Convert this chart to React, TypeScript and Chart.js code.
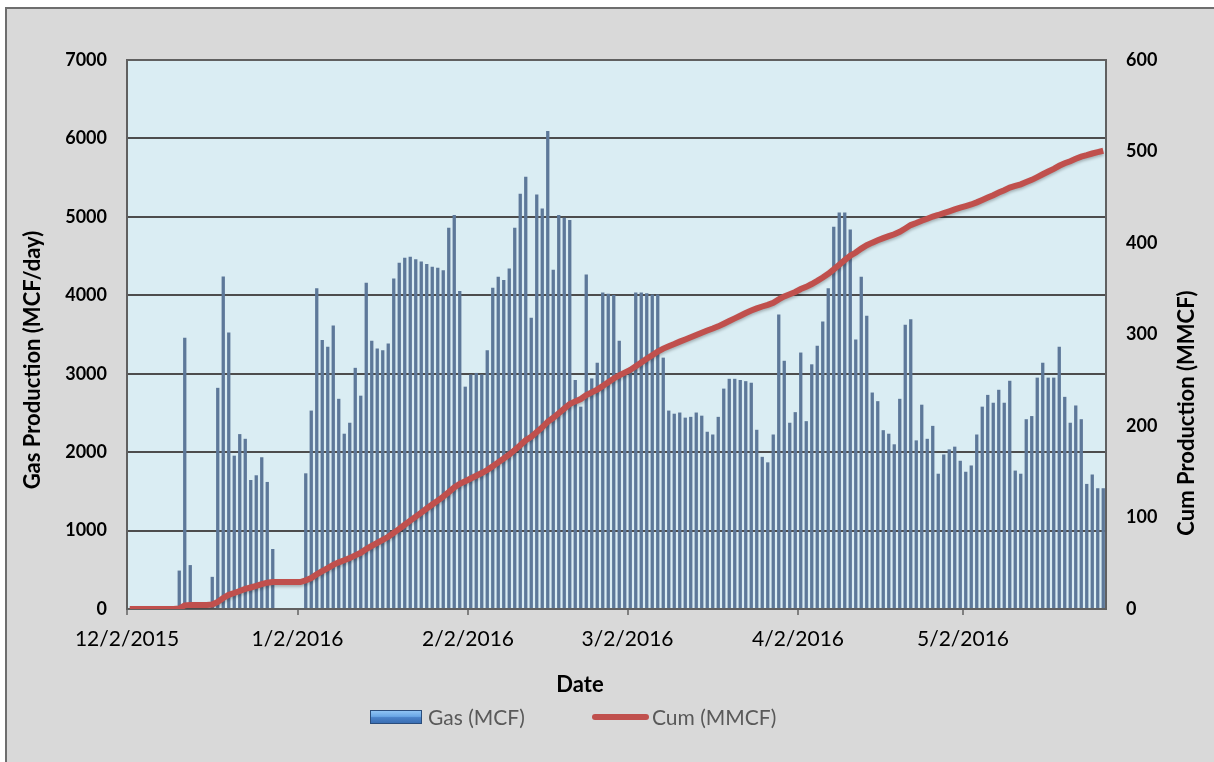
import React, { useEffect, useRef } from 'react';
import { Chart, registerables } from 'chart.js';

Chart.register(...registerables);

// Daily gas production (MCF/day), day 0 = 12/2/2015
const gasMcf = [
  0, 0, 0, 0, 0, 0, 0, 0, 0, 490,
  3460, 560, 0, 0, 0, 410, 2820, 4240, 3525, 1955,
  2230, 2170, 1645, 1705, 1935, 1620, 765, 0, 0, 0,
  0, 0, 1730, 2530, 4090, 3430, 3345, 3615, 2680, 2235,
  2375, 3075, 2720, 4160, 3420, 3320, 3300, 3385, 4215, 4415,
  4480, 4490, 4460, 4430, 4400, 4365, 4350, 4320, 4860, 5025,
  4055, 2835, 2990, 3010, 2990, 3300, 4095, 4235, 4195, 4340,
  4860, 5295, 5510, 3715, 5285, 5105, 6095, 4325, 5025, 4990,
  4960, 2920, 2580, 4265, 2940, 3140, 4035, 4020, 4005, 3420,
  3000, 3020, 4035, 4035, 4025, 4010, 4010, 3205, 2530, 2490,
  2505, 2440, 2450, 2505, 2465, 2260, 2225, 2450, 2810, 2935,
  2935, 2920, 2905, 2885, 2285, 1940, 1870, 2225, 3755, 3165,
  2375, 2510, 3270, 2395, 3120, 3355, 3665, 4090, 4875, 5055,
  5055, 4840, 3435, 4235, 3740, 2760, 2650, 2280, 2235, 2100,
  2680, 3625, 3695, 2150, 2605, 2170, 2335, 1725, 1970, 2035,
  2070, 1890, 1750, 1830, 2225, 2580, 2730, 2630, 2795, 2630,
  2910, 1765, 1725, 2420, 2460, 2950, 3140, 2950, 2950, 3345,
  2705, 2375, 2595, 2420, 1595, 1715, 1540, 1540,
];

// Cumulative production (MMCF)
const cumMmcf = [
  0, 0, 0, 0, 0, 0, 0, 0, 0, 0.5,
  4.0, 4.5, 4.5, 4.5, 4.5, 4.9, 7.7, 12.0, 15.5, 17.5,
  19.7, 21.9, 23.5, 25.2, 27.1, 28.8, 29.5, 29.5, 29.5, 29.5,
  29.5, 29.5, 31.3, 33.8, 37.9, 41.3, 44.7, 48.3, 51.0, 53.2,
  55.6, 58.6, 61.4, 65.5, 68.9, 72.3, 75.6, 78.9, 83.2, 87.6,
  92.1, 96.5, 101.0, 105.4, 109.8, 114.2, 118.5, 122.9, 127.7, 132.8,
  136.8, 139.6, 142.6, 145.6, 148.6, 151.9, 156.0, 160.3, 164.5, 168.8,
  173.7, 179.0, 184.5, 188.2, 193.5, 198.6, 204.7, 209.0, 214.0, 219.0,
  224.0, 226.9, 229.5, 233.7, 236.7, 239.8, 243.8, 247.9, 251.9, 255.3,
  258.3, 261.3, 265.3, 269.4, 273.4, 277.4, 281.4, 284.6, 287.2, 289.6,
  292.2, 294.6, 297.0, 299.5, 302.0, 304.3, 306.5, 308.9, 311.8, 314.7,
  317.6, 320.5, 323.5, 326.3, 328.6, 330.6, 332.4, 334.7, 338.4, 341.6,
  344.0, 346.5, 349.7, 352.1, 355.2, 358.6, 362.3, 366.4, 371.2, 376.3,
  381.3, 386.2, 389.6, 393.9, 397.6, 400.4, 403.0, 405.3, 407.5, 409.6,
  412.3, 415.9, 419.6, 421.8, 424.4, 426.5, 428.9, 430.6, 432.6, 434.6,
  436.7, 438.6, 440.3, 442.1, 444.4, 447.0, 449.7, 452.3, 455.1, 457.7,
  460.6, 462.4, 464.1, 466.6, 469.0, 472.0, 475.1, 478.1, 481.0, 484.4,
  487.1, 489.4, 492.0, 494.4, 496.0, 497.8, 499.3, 500.8,
];

const tickDays = [0, 31, 62, 91, 122, 152];
const tickLabels = ['12/2/2015', '1/2/2016', '2/2/2016', '3/2/2016', '4/2/2016', '5/2/2016'];
const xMaxDay = 178;
const gasMax = 7000;
const gasStep = 1000;
const cumMax = 600;
const cumStep = 100;

const xTitle = 'Date';
const leftTitle = 'Gas Production (MCF/day)';
const rightTitle = 'Cum Production (MMCF)';
const gasLabel = 'Gas (MCF)';
const cumLabel = 'Cum (MMCF)';

const FONT = 'Lato';

export default function App() {
  const ref = useRef<HTMLCanvasElement>(null);

  useEffect(() => {
    const canvas = ref.current;
    if (!canvas) return;

    const drawText = (ctx: any, text: string, x: number, y: number, rot: number) => {
      ctx.save();
      ctx.translate(x, y);
      ctx.rotate(rot);
      ctx.font = `bold 22px ${FONT}`;
      ctx.fillStyle = '#000';
      ctx.textAlign = 'center';
      ctx.textBaseline = 'middle';
      ctx.fillText(text, 0, 0);
      ctx.restore();
    };

    const plotArea = {
      id: 'plotArea',
      beforeDraw(chart: any) {
        const { ctx, chartArea: a } = chart;
        ctx.save();
        ctx.fillStyle = '#daedf3';
        ctx.fillRect(a.left, a.top, a.right - a.left, a.bottom - a.top);
        ctx.restore();
      },
      beforeDatasetsDraw(chart: any) {
        const { ctx, chartArea: a } = chart;
        ctx.save();
        ctx.strokeStyle = '#606060';
        ctx.lineWidth = 2;
        ctx.strokeRect(a.left, a.top, a.right - a.left, a.bottom - a.top);
        ctx.restore();
      },
      beforeDatasetDraw(chart: any, args: any) {
        if (args.index === 1) {
          const ctx = chart.ctx;
          ctx.save();
          ctx.shadowColor = 'rgba(0,0,0,0.25)';
          ctx.shadowBlur = 3;
          ctx.shadowOffsetY = 2;
        }
      },
      afterDatasetDraw(chart: any, args: any) {
        if (args.index === 1) chart.ctx.restore();
      },
      afterDraw(chart: any) {
        const ctx = chart.ctx;
        drawText(ctx, leftTitle, 33, 360, -Math.PI / 2);
        drawText(ctx, rightTitle, 1187, 413, -Math.PI / 2);
        drawText(ctx, xTitle, 580, 685, 0);
      },
    };

    const plain = (v: any) => String(v);

    const chart = new Chart(canvas, {
      type: 'bar',
      data: {
        datasets: [
          {
            type: 'bar',
            label: gasLabel,
            data: gasMcf.map((v, i) => ({ x: i + 0.5, y: v })),
            backgroundColor: '#5d7899',
            borderWidth: 0,
            barPercentage: 0.6,
            categoryPercentage: 1,
            yAxisID: 'y',
            order: 2,
          } as any,
          {
            type: 'line',
            label: cumLabel,
            data: cumMmcf.map((v, i) => ({ x: i + 0.5, y: v })),
            borderColor: '#c0504d',
            borderWidth: 6,
            pointRadius: 0,
            tension: 0,
            fill: false,
            yAxisID: 'y1',
            order: 1,
          } as any,
        ],
      },
      options: {
        animation: false,
        responsive: false,
        devicePixelRatio: 1,
        layout: { padding: { top: 60, left: 8, right: 8, bottom: 53 } },
        plugins: { legend: { display: false }, tooltip: { enabled: false } },
        font: { family: FONT },
        scales: {
          x: {
            type: 'linear',
            min: 0,
            max: xMaxDay,
            offset: false,
            afterBuildTicks: (s: any) => {
              s.ticks = tickDays.map((v) => ({ value: v }));
            },
            afterFit: (s: any) => {
              s.height = 100;
            },
            ticks: {
              callback: (v: any) => {
                const k = tickDays.indexOf(Number(v));
                return k >= 0 ? tickLabels[k] : '';
              },
              font: { family: FONT, size: 21 },
              color: '#000',
              padding: 12,
              maxRotation: 0,
              autoSkip: false,
            },
            grid: { display: true, drawOnChartArea: false, drawTicks: true, tickLength: 6, color: '#808080', lineWidth: 2, offset: false },
            border: { display: false },
          } as any,
          y: {
            position: 'left',
            min: 0,
            max: gasMax,
            ticks: { stepSize: gasStep, callback: plain, font: { family: FONT, size: 18, weight: 'bold' }, color: '#000', padding: 20 },
            grid: { color: '#4d4d4d', lineWidth: 2, drawTicks: false },
            border: { display: false },
            afterFit: (s: any) => {
              s.width = 119;
            },
          } as any,
          y1: {
            position: 'right',
            min: 0,
            max: cumMax,
            ticks: { stepSize: cumStep, callback: plain, font: { family: FONT, size: 18, weight: 'bold' }, color: '#000', padding: 20 },
            grid: { display: false, drawTicks: false },
            border: { display: false },
            afterFit: (s: any) => {
              s.width = 100;
            },
          } as any,
        },
      },
      plugins: [plotArea],
    });

    return () => chart.destroy();
  }, []);

  const legendText: React.CSSProperties = {
    position: 'fixed',
    top: 704,
    font: `21px ${FONT}`,
    lineHeight: '26px',
    color: '#595959',
    whiteSpace: 'nowrap',
  };

  return (
    <div style={{ position: 'fixed', left: 0, top: 0, width: 1214, height: 762, background: '#fff', overflow: 'hidden' }}>
      <div
        style={{
          position: 'absolute',
          left: 5,
          top: 7,
          width: 1214,
          height: 762,
          background: '#d9d9d9',
          borderLeft: '2px solid #6e6e6e',
          borderTop: '2px solid #6e6e6e',
        }}
      />
      <canvas ref={ref} width={1214} height={762} style={{ position: 'absolute', left: 0, top: 0, display: 'block' }} />
      <div
        style={{
          position: 'fixed',
          left: 370,
          top: 710,
          width: 52,
          height: 14,
          boxSizing: 'border-box',
          border: '1px solid #2a4d7c',
          background: 'linear-gradient(#8fc3f3 0%, #6aa7e6 45%, #4a82c8 55%, #3a6fb4 100%)',
        }}
      />
      <div style={{ ...legendText, left: 428 }}>{gasLabel}</div>
      <div style={{ position: 'fixed', left: 592, top: 714, width: 57, height: 6, borderRadius: 3, background: '#c0504d' }} />
      <div style={{ ...legendText, left: 652 }}>{cumLabel}</div>
    </div>
  );
}
